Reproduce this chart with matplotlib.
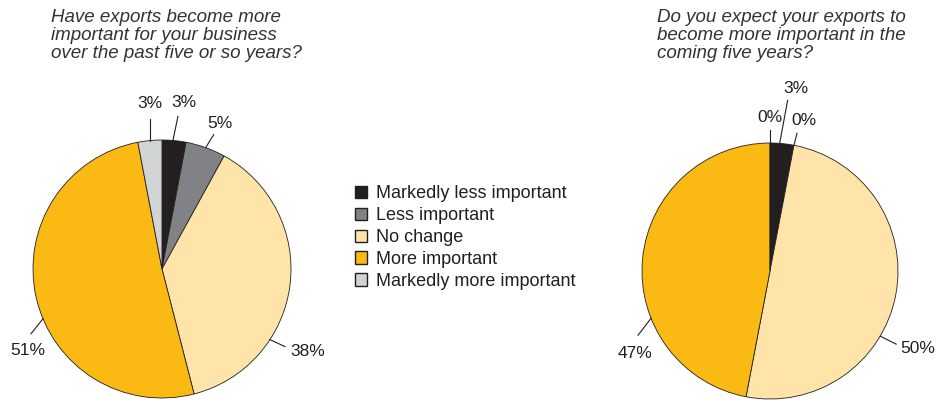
import matplotlib.pyplot as plt
import numpy as np
from matplotlib.patches import Patch

plt.rcParams['font.family'] = ['Liberation Sans', 'DejaVu Sans']

# categories and values
categorias = ['Markedly less important', 'Less important', 'No change',
              'More important', 'Markedly more important']
cores = ['#231f20', '#808285', '#fee4a9', '#fbb914', '#d1d3d4']

past_vals = [3, 5, 38, 51, 3]
future_vals = [3, 0, 50, 47, 0]

past_title = 'Have exports become more\nimportant for your business\nover the past five or so years?'
future_title = 'Do you expect your exports to\nbecome more important in the\ncoming five years?'

W, H = 943, 400
fig = plt.figure(figsize=(9.43, 4.0), dpi=100)
ax = fig.add_axes([0, 0, 1, 1])

txt_color = '#231f20'


def desenha_pizza(vals, centro, raio, frac_label, linhas, desloc):
    ax.pie(vals, colors=cores, startangle=90, counterclock=False, center=centro,
           radius=raio, wedgeprops=dict(edgecolor='#231f20', linewidth=0.6),
           frame=True)
    total = float(sum(vals))
    acum = 0.0
    for i, v in enumerate(vals):
        pos = (acum + frac_label[i] * v) / total
        acum += v
        ang = np.deg2rad(90 - 360 * pos)
        x0 = centro[0] + raio * np.cos(ang)
        y0 = centro[1] + raio * np.sin(ang)
        # leader line (pixel offsets, y downwards)
        x1 = x0 + linhas[i][0]
        y1 = y0 - linhas[i][1]
        ax.plot([x0, x1], [y0, y1], color=txt_color, lw=0.8)
        ax.text(x1 + desloc[i][0], y1 - desloc[i][1], f'{v}%', ha='center',
                va='center', fontsize=12.5, color=txt_color)


desenha_pizza(past_vals, (162, H - 269), 129,
              [0.45, 0.5, 0.69, 0.445, 0.5],
              [(5, -24), (8, -13), (15, 7), (-12, 15), (0, -22)],
              [(6, -14), (6, -11), (23, 5), (-3, 17), (0, -15)])

desenha_pizza(future_vals, (770, H - 271), 128,
              [0.4, 0.5, 0.61, 0.34, 0.5],
              [(8, -43), (3, -12), (16, 8), (-13, 17), (0, -13)],
              [(8, -12), (7, -13), (22, 4), (-3, 18), (0, -12)])

ax.set_xlim(0, W)
ax.set_ylim(0, H)
ax.set_aspect('equal')
ax.axis('off')

fig.text(51 / W, 1 - 9 / H, past_title, ha='left', va='top', fontsize=13.5,
         style='italic', color='#333333', linespacing=1.08)
fig.text(657 / W, 1 - 9 / H, future_title, ha='left', va='top', fontsize=13.5,
         style='italic', color='#333333', linespacing=1.08)

handles = [Patch(facecolor=c, edgecolor='#231f20', linewidth=1.0) for c in cores]
fig.legend(handles, categorias, loc='upper left', bbox_to_anchor=(339 / W, 1 - 169 / H),
           frameon=False, fontsize=13, handlelength=0.67, handleheight=0.67,
           handletextpad=0.48, labelspacing=0.27, labelcolor=txt_color)

fig.savefig('out.png', dpi=100)
